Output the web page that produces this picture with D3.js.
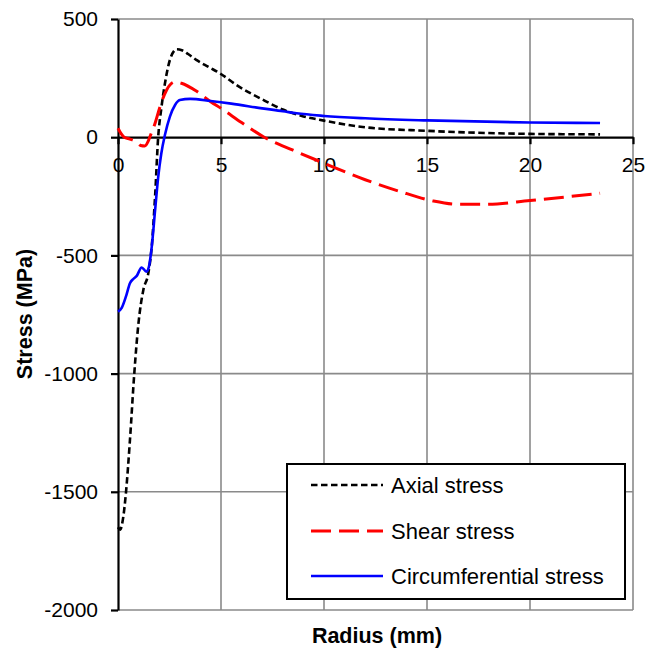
<!DOCTYPE html>
<html>
<head>
<meta charset="utf-8">
<script src="https://cdn.jsdelivr.net/npm/d3@7"></script>
<style>
  html, body { margin: 0; padding: 0; background: #fff; }
  svg text { font-family: "Liberation Sans", Arial, sans-serif; fill: #000; }
</style>
</head>
<body>
<svg id="chart" width="657" height="649"></svg>
<script>
// Radial stress profiles (radius in mm, stress in MPa)
const axialRadius = [0, 0.1, 0.26, 0.39, 0.58, 0.79, 0.99, 1.23, 1.47, 1.63, 1.8, 1.95, 2.1, 2.28, 2.52, 2.85, 3.1, 3.4, 3.8, 4.4, 4.95, 5.8, 7.0, 8.0, 9.0, 10.0, 12.0, 15.0, 20.0, 23.4];
const axialStress = [-1650, -1660, -1604, -1500, -1281, -1000, -790, -646, -576, -470, -250, 0, 120, 228, 327, 372, 368, 352, 327, 297, 270, 218, 160, 117, 88, 70, 42, 27, 14, 12];

const shearRadius = [0, 0.15, 0.3, 0.58, 0.9, 1.1, 1.3, 1.45, 1.55, 1.8, 2.04, 2.36, 2.77, 3.08, 3.8, 4.5, 5.0, 6.0, 7.1, 8.5, 10.0, 12.0, 13.7, 15.3, 16.5, 17.9, 20.0, 23.4];
const shearStress = [38, 15, 0, -8, -20, -35, -37, -20, 2, 59, 129, 200, 234, 228, 195, 150, 122, 62, 0, -55, -110, -180, -230, -270, -284, -284, -268, -237];

const circRadius = [0, 0.18, 0.4, 0.58, 0.74, 0.9, 1.15, 1.38, 1.5, 1.63, 1.8, 1.95, 2.1, 2.28, 2.52, 2.77, 3.0, 3.5, 4.5, 5.5, 7.0, 8.0, 8.67, 10.0, 12.0, 15.0, 20.0, 23.4];
const circStress = [-738, -722, -670, -618, -600, -588, -551, -569, -548, -470, -310, -170, -70, 10, 87, 136, 157, 162, 153, 142, 122, 110, 101, 90, 80, 71, 62, 60];

const xTicks = [0, 5, 10, 15, 20, 25];
const yTicks = [500, 0, -500, -1000, -1500, -2000];
const seriesNames = ["Axial stress", "Shear stress", "Circumferential stress"];

const svg = d3.select("#chart");
const x = d3.scaleLinear().domain([0, 25]).range([118, 633]);
const y = d3.scaleLinear().domain([-2000, 500]).range([610, 19]);

// gridlines
const grid = svg.append("g").attr("stroke", "#8a8a8a").attr("stroke-width", 1.6);
grid.selectAll("line.v").data(xTicks.filter(d => d > 0)).join("line")
  .attr("x1", d => x(d)).attr("x2", d => x(d)).attr("y1", y(500)).attr("y2", y(-2000));
grid.selectAll("line.h").data(yTicks.filter(d => d !== 0)).join("line")
  .attr("x1", x(0)).attr("x2", x(25)).attr("y1", d => y(d)).attr("y2", d => y(d));

// axes (plain hyphen for negative labels)
const plain = d => String(d);
const yAxis = svg.append("g").attr("transform", `translate(${x(0)},0)`)
  .call(d3.axisLeft(y).tickValues(yTicks).tickSize(7).tickSizeOuter(0).tickPadding(13).tickFormat(plain));
const xAxis = svg.append("g").attr("transform", `translate(0,${y(0)})`)
  .call(d3.axisBottom(x).tickValues(xTicks).tickSize(7).tickSizeOuter(0).tickPadding(13).tickFormat(plain));
[xAxis, yAxis].forEach(a => {
  a.select(".domain").attr("stroke", "#000").attr("stroke-width", 2.2);
  a.selectAll(".tick line").attr("stroke", "#000").attr("stroke-width", 2.2);
  a.selectAll(".tick text").attr("font-size", 21).attr("fill", "#000")
    .style("font-family", '"Liberation Sans", Arial, sans-serif');
});

// series lines
const series = [
  { r: axialRadius, s: axialStress, color: "#000000", dash: "6.5,3.5", width: 2.6 },
  { r: shearRadius, s: shearStress, color: "#ff0000", dash: "20,8", width: 3 },
  { r: circRadius, s: circStress, color: "#0000ff", dash: null, width: 2.6 }
];
const line = d3.line().x(d => x(d[0])).y(d => y(d[1])).curve(d3.curveMonotoneX);
series.forEach(sr => {
  svg.append("path")
    .datum(d3.zip(sr.r, sr.s))
    .attr("fill", "none")
    .attr("stroke", sr.color)
    .attr("stroke-width", sr.width)
    .attr("stroke-dasharray", sr.dash)
    .attr("stroke-linejoin", "round")
    .attr("d", line);
});

// axis titles
svg.append("text").attr("x", 377).attr("y", 643).attr("text-anchor", "middle")
  .attr("font-size", 21.5).attr("font-weight", "bold").text("Radius (mm)");
svg.append("text").attr("transform", "translate(32,314) rotate(-90)").attr("text-anchor", "middle")
  .attr("font-size", 21.5).attr("font-weight", "bold").text("Stress (MPa)");

// legend
const lg = svg.append("g");
lg.append("rect").attr("x", 287).attr("y", 464).attr("width", 338).attr("height", 135)
  .attr("fill", "#fff").attr("stroke", "#000").attr("stroke-width", 2);
const rowY = [485, 531, 576];
series.forEach((sr, i) => {
  lg.append("line").attr("x1", 311).attr("x2", 383).attr("y1", rowY[i]).attr("y2", rowY[i])
    .attr("stroke", sr.color).attr("stroke-width", sr.width).attr("stroke-dasharray", sr.dash);
  lg.append("text").attr("x", 391).attr("y", rowY[i]).attr("dy", "0.35em")
    .attr("font-size", 22).text(seriesNames[i]);
});
</script>
</body>
</html>
